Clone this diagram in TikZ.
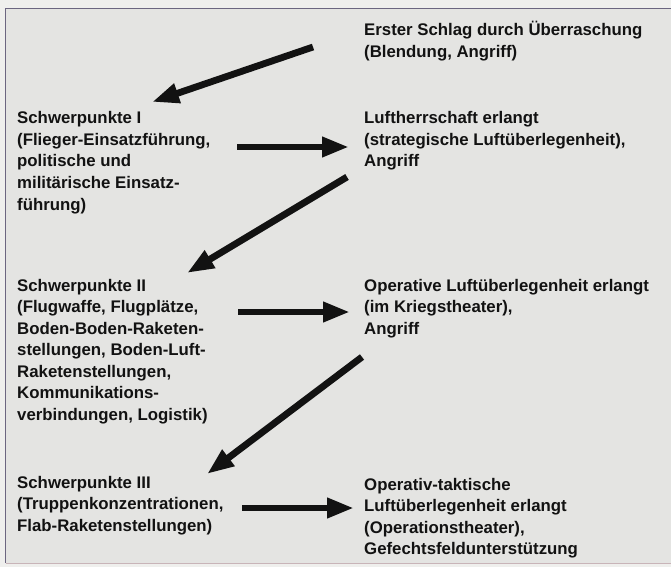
\documentclass[tikz,border=0pt]{standalone}
\usepackage{fontspec}
\setmainfont{Liberation Sans}
\usetikzlibrary{arrows.meta}
\definecolor{bgpaper}{HTML}{E4E4E2}
\definecolor{outerpaper}{HTML}{EFEFED}
\definecolor{framecol}{HTML}{6C6680}
\definecolor{bottomcol}{HTML}{C8B4B8}
\definecolor{ink}{HTML}{121212}
\begin{document}
\begin{tikzpicture}[x=1pt,y=-1pt,
  lbl/.style={anchor=base west, inner sep=0pt, text=ink,
    font=\bfseries\fontsize{16.8}{21.5}\selectfont},
  bigarrow/.style={draw=ink, line width=6.8pt,
    -{Triangle[length=27pt,width=19pt]}}]
\useasboundingbox (0,0) rectangle (671,567);
\fill[outerpaper] (0,0) rectangle (671,567);
\fill[bgpaper] (5,8) rectangle (671,563);
\draw[framecol, line width=1.5pt] (671,8.5) -- (5.5,8.5) -- (5.5,563);
\draw[bottomcol, line width=1pt] (5.5,563) -- (671,563);

\node[lbl] (erster) at (364,36) {\begin{tabular}[t]{@{}l@{}}Erster Schlag durch Überraschung\\(Blendung, Angriff)\end{tabular}};
\node[lbl] (schw1) at (17,124) {\begin{tabular}[t]{@{}l@{}}Schwerpunkte I\\(Flieger-Einsatzführung,\\politische und\\militärische Einsatz-\\führung)\end{tabular}};
\node[lbl] (luft1) at (364,124) {\begin{tabular}[t]{@{}l@{}}Luftherrschaft erlangt\\(strategische Luftüberlegenheit),\\Angriff\end{tabular}};
\node[lbl] (schw2) at (17,291) {\begin{tabular}[t]{@{}l@{}}Schwerpunkte II\\(Flugwaffe, Flugplätze,\\Boden-Boden-Raketen-\\stellungen, Boden-Luft-\\Raketenstellungen,\\Kommunikations-\\verbindungen, Logistik)\end{tabular}};
\node[lbl] (luft2) at (364,291) {\begin{tabular}[t]{@{}l@{}}Operative Luftüberlegenheit erlangt\\(im Kriegstheater),\\Angriff\end{tabular}};
\node[lbl] (schw3) at (17,488) {\begin{tabular}[t]{@{}l@{}}Schwerpunkte III\\(Truppenkonzentrationen,\\Flab-Raketenstellungen)\end{tabular}};
\node[lbl] (luft3) at (364,490) {\begin{tabular}[t]{@{}l@{}}Operativ-taktische\\Luftüberlegenheit erlangt\\(Operationstheater),\\Gefechtsfeldunterstützung\end{tabular}};

\coordinate (d1s) at (313,47);  \coordinate (d1e) at (152,102);
\coordinate (h1s) at (237,147); \coordinate (h1e) at (349,147);
\coordinate (d2s) at (347,177); \coordinate (d2e) at (187,273);
\coordinate (h2s) at (238,312); \coordinate (h2e) at (350,312);
\coordinate (d3s) at (362,357); \coordinate (d3e) at (207,474);
\coordinate (h3s) at (242,508); \coordinate (h3e) at (354,508);

\draw[bigarrow] (d1s) -- (d1e);
\draw[bigarrow] (h1s) -- (h1e);
\draw[bigarrow] (d2s) -- (d2e);
\draw[bigarrow] (h2s) -- (h2e);
\draw[bigarrow] (d3s) -- (d3e);
\draw[bigarrow] (h3s) -- (h3e);
\end{tikzpicture}
\end{document}
